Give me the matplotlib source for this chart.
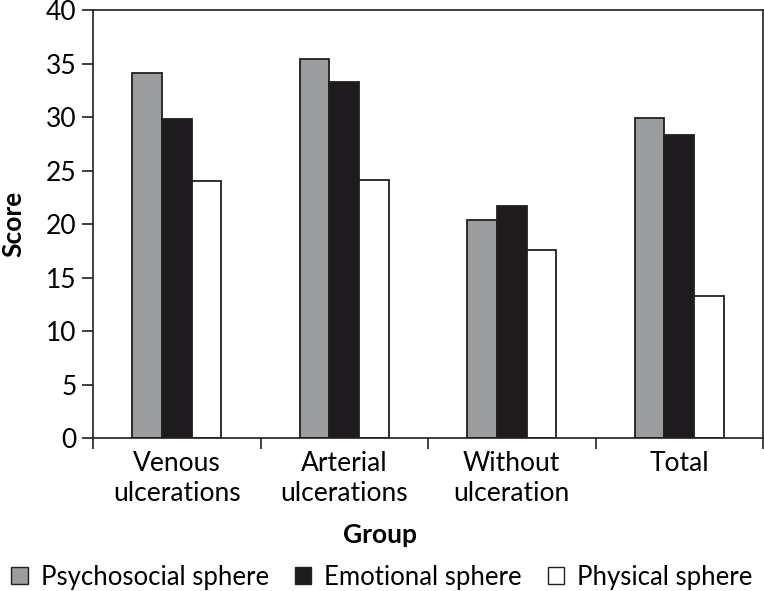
import numpy as np
import matplotlib.pyplot as plt
from matplotlib.patches import Patch

plt.rcParams['font.family'] = ['Lato', 'DejaVu Sans']

# Data
groups = ["Venous\nulcerations", "Arterial\nulcerations", "Without\nulceration", "Total"]
psychosocial = [34.1, 35.4, 20.4, 29.9]
emotional = [29.8, 33.3, 21.7, 28.3]
physical = [24.0, 24.1, 17.6, 13.3]

series = ["Psychosocial sphere", "Emotional sphere", "Physical sphere"]
colors = ["#9b9c9e", "#1d1b1e", "#ffffff"]
edge = "#231f20"
fs = 19

fig = plt.figure(figsize=(7.64, 5.91), dpi=100)
ax = fig.add_axes([93 / 764, 1 - 438.3 / 591, 670 / 764, 428.3 / 591])

x = np.arange(len(groups))
width = 0.178
for i, (vals, name, c) in enumerate(zip([psychosocial, emotional, physical], series, colors)):
    ax.bar(x + (i - 1) * width, vals, width, color=c, edgecolor=edge, linewidth=1.3, label=name)

ax.set_xlim(-0.5, 3.5)
ax.set_ylim(0, 40)
ax.set_yticks(range(0, 41, 5))
ax.set_xticks(x)
ax.set_xticklabels(groups, fontsize=fs, linespacing=1.25)
ax.set_xticks(np.arange(-0.5, 4, 1), minor=True)
ax.tick_params(axis='x', which='major', length=0, pad=9)
ax.tick_params(axis='x', which='minor', length=8, width=1.2, color=edge)
ax.tick_params(axis='y', length=8, width=1.2, color=edge, labelsize=fs, pad=4)
for s in ax.spines.values():
    s.set_linewidth(1.2)
    s.set_color(edge)

fig.text(13 / 764, 1 - 224 / 591, "Score", fontsize=fs, fontweight='bold', rotation=90,
         ha='center', va='center')
fig.text(380 / 764, 1 - 535 / 591, "Group", fontsize=fs, fontweight='bold', ha='center', va='center')

handles = [Patch(facecolor=c, edgecolor=edge, linewidth=1.0) for c in colors]
fig.legend(handles, series, loc='center', bbox_to_anchor=(0.5, 1 - 577 / 591), ncol=3,
           frameon=False, fontsize=18.5, handlelength=0.65, handleheight=0.65,
           handletextpad=0.5, columnspacing=1.0, borderaxespad=0, borderpad=0)

fig.savefig("out.png", dpi=100)
